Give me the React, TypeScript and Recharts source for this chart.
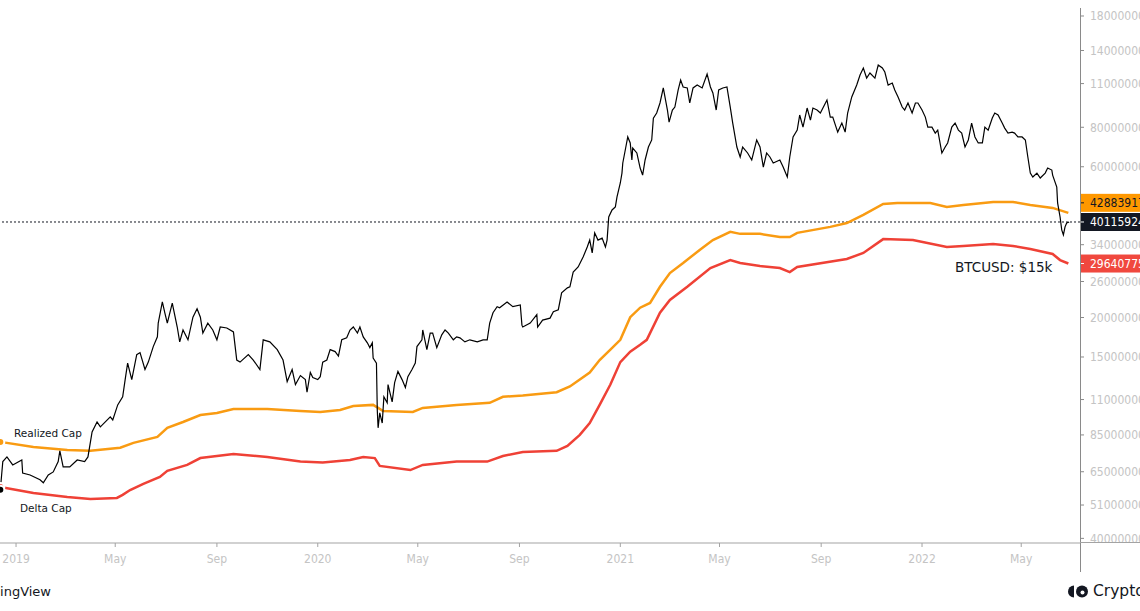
import { LineChart, Line, XAxis, YAxis, ReferenceLine } from "recharts";

// x values are days counted from 2019-01-01, caps are in billions of USD

const mcapDays = [
  -19, -16, -11, -4, 7, 8, 17, 29, 33, 39, 45, 51, 53, 57, 65, 74, 83, 87, 92, 98,
  102, 114, 117, 123, 129, 132, 135, 140, 146, 150, 156, 160, 166, 171, 172, 177, 180, 183, 189, 195,
  198, 202, 208, 214, 219, 223, 226, 232, 238, 243, 247, 255, 263, 267, 271, 281, 287, 295, 299, 307,
  316, 323, 328, 334, 338, 344, 350, 352, 356, 359, 365, 368, 371, 376, 380, 386, 390, 394, 400, 404,
  408, 413, 416, 420, 425, 428, 431, 432, 436, 437, 438, 440, 443, 445, 449, 450, 455, 458, 462, 467,
  471, 474, 479, 483, 485, 491, 492, 497, 501, 504, 509, 515, 519, 523, 529, 533, 537, 543, 549, 558,
  565, 570, 573, 577, 582, 585, 594, 601, 610, 612, 613, 622, 630, 631, 637, 646, 650, 656, 660, 667,
  670, 674, 680, 686, 691, 694, 697, 700, 704, 709, 713, 715, 717, 721, 725, 727, 731, 733, 734, 737,
  740, 743, 745, 746, 751, 755, 758, 761, 765, 769, 771, 775, 779, 783, 788, 790, 794, 797, 801, 804,
  807, 812, 815, 819, 824, 830, 836, 840, 843, 847, 850, 855, 860, 864, 867, 872, 876, 879, 885, 890,
  896, 900, 904, 908, 912, 916, 924, 928, 933, 936, 940, 945, 948, 952, 957, 961, 964, 969, 973, 981,
  985, 988, 994, 999, 1003, 1006, 1011, 1017, 1021, 1025, 1029, 1033, 1039, 1043, 1048, 1051, 1055, 1060, 1063, 1067,
  1072, 1075, 1079, 1084, 1088, 1091, 1096, 1100, 1103, 1108, 1112, 1115, 1120, 1124, 1127, 1132, 1136, 1140, 1144, 1148,
  1152, 1156, 1160, 1164, 1169, 1172, 1176, 1181, 1184, 1188, 1193, 1196, 1200, 1205, 1208, 1212, 1217, 1221, 1224, 1227,
  1230, 1235, 1239, 1245, 1248, 1253, 1254, 1259, 1260, 1263, 1265, 1267, 1269, 1271, 1274,
];
const marketCap = [
  57, 70, 72.4, 68.3, 70.8, 64.4, 63.5, 61.3, 60, 63.5, 64.9, 70, 75.7, 67.3, 67.3, 70.8, 70, 72.4, 86.9, 93.4,
  90.1, 96.9, 94.8, 105.8, 112.2, 127.2, 143.5, 127.2, 152.6, 154.9, 136.9, 144.5, 161.8, 173.7, 191.9, 224, 207, 192, 222, 186.6,
  167.5, 182.6, 170, 200.5, 213.3, 200.5, 178.6, 192, 182.6, 170, 186.6, 185.3, 180, 146.7, 144.5, 152.6, 146.7, 136.9, 170, 167.5,
  158.3, 146.7, 125.4, 136.9, 122.7, 131, 127.2, 116, 134, 129.1, 127.2, 130, 144.5, 146.7, 158.3, 156, 151, 170, 172.5, 182.6,
  186.6, 178.6, 186.6, 173.7, 166.3, 160.6, 166.3, 148.8, 143.5, 102, 89.5, 99.8, 92.7, 112.2, 107.4, 122.7, 108.2, 124.5, 135, 127.2,
  120.1, 130, 136.9, 143.5, 161.8, 170, 182.6, 158.3, 178.6, 178.6, 160.6, 176.2, 182.6, 178.6, 170, 173.7, 172.5, 167.5, 170, 167.5,
  170, 170, 192, 207, 216.4, 214.8, 224, 216.4, 219.1, 189.2, 186.6, 192, 204.2, 186.6, 196.2, 199.1, 208.7, 211.7, 239.5, 248.3,
  250.2, 278.5, 289, 310.7, 334.5, 351.6, 320.2, 370.6, 351.6, 356.7, 334.5, 351.6, 416, 438, 447.7, 481.5, 533, 573, 616.7, 677.9,
  745.5, 713.6, 630.3, 687.9, 663.3, 594.3, 564.7, 630.3, 692.9, 729.4, 855.4, 887.5, 955, 1065.3, 907.1, 830.9, 907.1, 927.2, 1049.9, 1128.5,
  1073.1, 1065.3, 955, 1065.3, 1088.2, 1065.3, 1179.1, 1073.1, 1027.2, 907.1, 1049.9, 1065.3, 1073.1, 927.2, 824.8, 692.9, 644.3, 692.9, 663.3, 630.3,
  729.4, 692.9, 598.6, 663.3, 644.3, 616.7, 630.3, 598.6, 556.9, 644.3, 745.5, 783.8, 874.7, 801.1, 920.5, 843, 920.5, 907.1, 887.5, 976.1,
  861.7, 861.7, 772.5, 824.8, 772.5, 887.5, 997.7, 1088.2, 1170.6, 1231.9, 1145.2, 1187.8, 1145.2, 1259.6, 1231.9, 1196.5, 1088.2, 1104.2, 1049.9, 997.7,
  927.2, 907.1, 955, 887.5, 955, 955, 907.1, 861.7, 801.1, 801.1, 766.8, 783.8, 663.3, 692.9, 713.6, 801.1, 824.8, 783.8, 766.8, 692.9,
  729.4, 824.8, 745.5, 713.6, 713.6, 801.1, 783.8, 855.4, 887.5, 874.7, 824.8, 795.3, 766.8, 772.5, 766.8, 745.5, 745.5, 729.4, 644.3, 573,
  556.9, 573, 552.9, 573, 594.3, 585.7, 564.7, 517.2, 460.8, 416, 378.8, 365.2, 387.2, 398.1, 401.15924,
];

const realizedDays = [
  -19, 21, 62, 90, 126, 142, 171, 183, 202, 223, 243, 263, 304, 344, 368, 392, 408, 432, 438, 444,
  480, 492, 533, 573, 589, 613, 654, 670, 694, 706, 719, 731, 743, 755, 767, 779, 791, 807, 827, 843,
  864, 876, 900, 924, 936, 945, 985, 1005, 1025, 1049, 1066, 1106, 1126, 1146, 1182, 1206, 1227, 1254, 1273,
];
const realizedCap = [
  80.8, 77.9, 76.2, 75.7, 77.4, 80.2, 83.8, 89.5, 93.4, 98.3, 99.8, 102.7, 102.7, 101.2, 100.5, 102, 105, 105.8, 103.5, 101.2,
  100.5, 103.5, 105.8, 107.4, 112.2, 113.3, 116, 121, 134, 146.7, 158.3, 170, 200.5, 214.8, 222.4, 250.2, 276.5, 297.4, 327.3, 351.6,
  373.3, 367.9, 367.9, 359.4, 359.4, 370.6, 387.2, 398.1, 422.4, 457.5, 460.8, 460.8, 447.7, 454.3, 464.2, 464.2, 454.3, 444.5, 428.83917,
];

const deltaDays = [
  -19, 21, 62, 90, 122, 129, 138, 154, 174, 183, 207, 223, 263, 304, 344, 371, 404, 420, 434, 440,
  477, 492, 533, 570, 589, 613, 654, 667, 682, 694, 706, 719, 731, 743, 755, 763, 779, 791, 812, 840,
  864, 876, 900, 924, 936, 945, 1005, 1025, 1049, 1085, 1126, 1146, 1182, 1206, 1227, 1254, 1263, 1273,
];
const deltaCap = [
  58.2, 55.7, 54.1, 53.3, 53.7, 54.9, 56.9, 59.5, 62.6, 65.4, 68.3, 71.8, 74, 72.4, 70, 69.5, 70.8, 72.4, 71.8, 67.8,
  65.8, 68.3, 70, 70, 72.9, 75.1, 75.7, 78.5, 85, 92.7, 105.8, 122.7, 144.5, 156, 163.9, 170, 207.1, 227.3, 250.2, 286.8,
  304, 297.4, 291, 286.8, 278.5, 288.9, 306.3, 320.2, 354.1, 351.6, 334.5, 337, 341.5, 337, 329.7, 317.9, 304, 296.40775,
];

const xTickDates = [
  "2019-01-01", "2019-05-01", "2019-09-01", "2020-01-01", "2020-05-01", "2020-09-01",
  "2021-01-01", "2021-05-01", "2021-09-01", "2022-01-01", "2022-05-01",
];
const xTickLabels = ["2019", "May", "Sep", "2020", "May", "Sep", "2021", "May", "Sep", "2022", "May"];
const yTicks = [40, 51, 65, 85, 110, 150, 200, 260, 340, 600, 800, 1100, 1400, 1800];

const dayOf = (iso: string) => (Date.parse(iso) - Date.parse("2019-01-01")) / 864e5;
const xTicks = xTickDates.map(dayOf);

const toRows = (days: number[], vals: number[]) => days.map((d, i) => ({ day: d, v: vals[i] }));
const mcapData = toRows(mcapDays, marketCap);
const realizedData = toRows(realizedDays, realizedCap);
const deltaData = toRows(deltaDays, deltaCap);

const last = (a: number[]) => a[a.length - 1];
const badges = [
  { value: last(realizedCap), fill: "#ff9800", color: "#131722", shift: -10 },
  { value: last(marketCap), fill: "#131722", color: "#ffffff", shift: 0 },
  { value: last(deltaCap), fill: "#f0483e", color: "#ffffff", shift: 0 },
];

const axisFont = "'Liberation Sans Narrow', 'DejaVu Sans Condensed', 'Liberation Sans', sans-serif";
const textFont = "'DejaVu Sans', Verdana, sans-serif";

const fullNumber = (v: number) => Math.round(v * 1e9).toString();

const YTick = (props: any) => {
  const { x, y, payload } = props;
  const badge = badges.find((b) => b.value === payload.value);
  if (!badge) {
    return (
      <g>
        <line x1={x - 10} x2={x - 6} y1={y} y2={y} stroke="#8a8a8a" />
        <text x={x} y={y} dy="0.36em" fill="#c4c4c4" fontSize={12} fontFamily={axisFont}>
          {fullNumber(payload.value)}
        </text>
      </g>
    );
  }
  const cy = y + badge.shift;
  return (
    <g>
      <rect x={x - 10} y={cy - 9} width={70} height={18} fill={badge.fill} />
      <line x1={x - 10} x2={x - 6} y1={cy} y2={cy} stroke={badge.color} />
      <text x={x} y={cy} dy="0.36em" fill={badge.color} fontSize={12} fontFamily={axisFont}>
        {fullNumber(payload.value)}
      </text>
    </g>
  );
};

export default function App() {
  return (
    <div style={{ position: "relative", width: 1140, height: 611, overflow: "hidden", background: "#fff" }}>
      <style>{"body{margin:0}"}</style>
      <LineChart width={1140} height={611} margin={{ top: 0, right: 0, bottom: 0, left: 0 }}>
        <XAxis
          type="number"
          dataKey="day"
          domain={[-19.4, 1287.1]}
          allowDataOverflow
          ticks={xTicks}
          interval={0}
          tickFormatter={(d: number) => xTickLabels[xTicks.indexOf(d)] ?? ""}
          height={68}
          tickSize={4}
          tickMargin={7}
          axisLine={{ stroke: "#a3a3a3" }}
          tickLine={{ stroke: "#a3a3a3" }}
          tick={{ fill: "#c4c4c4", fontSize: 12, fontFamily: axisFont }}
        />
        <YAxis
          orientation="right"
          scale="log"
          domain={[38.67, 2022.6]}
          allowDataOverflow
          ticks={[...yTicks, ...badges.map((b) => b.value)]}
          interval={0}
          width={60}
          tickSize={4}
          tickMargin={6}
          axisLine={false}
          tickLine={false}
          tick={<YTick />}
        />
        <ReferenceLine y={last(marketCap)} stroke="#131722" strokeDasharray="2 2" strokeWidth={1} />
        <Line data={deltaData} dataKey="v" type="linear" stroke="#ef4136" strokeWidth={2.5} dot={false} isAnimationActive={false} />
        <Line data={realizedData} dataKey="v" type="linear" stroke="#f99b12" strokeWidth={2.5} dot={false} isAnimationActive={false} />
        <Line data={mcapData} dataKey="v" type="linear" stroke="#000000" strokeWidth={1.2} dot={false} isAnimationActive={false} />
      </LineChart>

      <div style={{ position: "absolute", left: 1080, top: 8, width: 1, height: 564, background: "#8a8a8a" }} />
      <div style={{ position: "absolute", left: 1080, top: 542, width: 60, height: 1, background: "#a3a3a3" }} />

      <div style={{ position: "absolute", left: 14, top: 427, fontSize: 10.5, lineHeight: "12px", color: "#131722", fontFamily: textFont }}>
        Realized Cap
      </div>
      <div style={{ position: "absolute", left: 20, top: 502, fontSize: 10.5, lineHeight: "12px", color: "#131722", fontFamily: textFont }}>
        Delta Cap
      </div>
      <div style={{ position: "absolute", left: 955, top: 259, fontSize: 13.5, lineHeight: "16px", color: "#131722", fontFamily: textFont }}>
        BTCUSD: $15k
      </div>

      <div style={{ position: "absolute", right: 1089, top: 584, fontSize: 13, lineHeight: "16px", color: "#131722", whiteSpace: "nowrap", fontFamily: textFont }}>
        TradingView
      </div>
      <svg style={{ position: "absolute", left: 1067, top: 584 }} width={22} height={15}>
        <path d="M7 1.5 A6 6 0 0 0 7 13.5 Z" fill="#131722" />
        <circle cx={15} cy={7.5} r={6} fill="#131722" />
        <circle cx={15.5} cy={8.5} r={2} fill="#ffffff" />
      </svg>
      <div style={{ position: "absolute", left: 1093, top: 582, fontSize: 15.5, lineHeight: "18px", color: "#131722", whiteSpace: "nowrap", fontFamily: textFont }}>
        CryptoQuant
      </div>
    </div>
  );
}
